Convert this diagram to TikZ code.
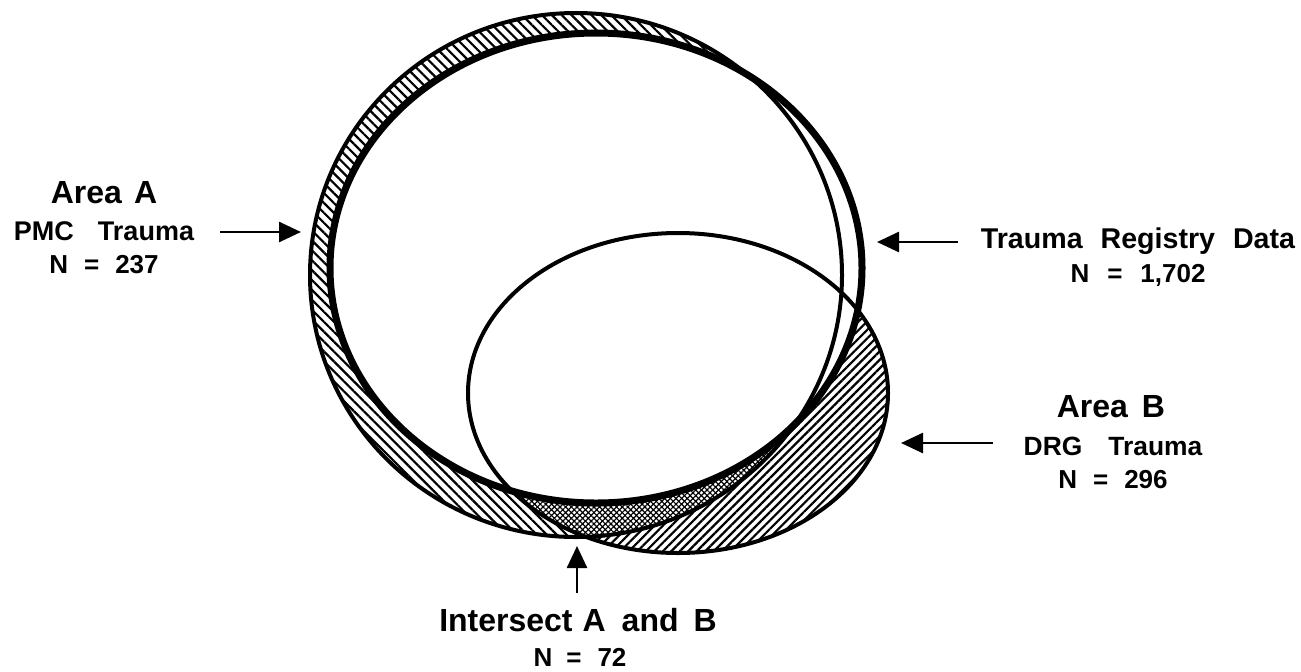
\documentclass[tikz,border=0pt]{standalone}
\usepackage{fontspec}
\setmainfont{Liberation Sans}
\usetikzlibrary{patterns.meta,arrows.meta}
\begin{document}
\begin{tikzpicture}[x=0.5pt,y=-0.5pt,
  lab/.style={inner sep=0pt, anchor=base},
  big/.style={font=\bfseries\fontsize{16}{19}\selectfont},
  mid/.style={font=\bfseries\fontsize{13.5}{16}\selectfont},
  num/.style={font=\bfseries\fontsize{13}{16}\selectfont},
  arr/.style={line width=1.3pt, -{Triangle[length=11pt,width=10pt]}},
  hatchA/.style={pattern={Lines[angle=-45,distance=3.5pt,line width=1.1pt]}},
  hatchB/.style={pattern={Lines[angle=45,distance=3pt,line width=1.1pt]}},
  xhatch1/.style={pattern={Lines[angle=45,distance=2pt,line width=.6pt]}},
  xhatch2/.style={pattern={Lines[angle=-45,distance=2pt,line width=.6pt]}}]
\useasboundingbox (0,0) rectangle (1301,671);
\def\shA{(576,275) ellipse [x radius=133pt, y radius=131pt]}
\def\shR{(596,268) ellipse [x radius=133pt, y radius=117.5pt]}
\def\shB{(678,393) ellipse [x radius=105pt, y radius=80pt]}
% hatched regions
\fill[hatchA] \shA;
\fill[white] \shB;
\fill[hatchB] \shB;
\begin{scope}
  \clip \shA;
  \fill[white] \shB;
  \fill[xhatch1] \shB;
  \fill[xhatch2] \shB;
\end{scope}
\fill[white] \shR;
% outlines
\draw[line width=2pt] \shA;
\draw[line width=2pt] \shB;
\draw[line width=3.5pt] \shR;
% labels
\node[lab,big] (aA) at (104,203) {Area\hspace{6pt}A};
\node[lab,mid] (aApmc) at (104,240) {PMC\hspace{12pt}Trauma};
\node[lab,num] (aAn) at (104,273) {N\hspace{8pt}=\hspace{8pt}237};
\node[lab,font=\bfseries\fontsize{14.3}{17}\selectfont] (reg) at (1138,248) {Trauma\hspace{9pt}Registry\hspace{9pt}Data};
\node[lab,num] (regn) at (1138,282) {N\hspace{9pt}=\hspace{9pt}1,702};
\node[lab,big] (aB) at (1111,417) {Area\hspace{7pt}B};
\node[lab,font=\bfseries\fontsize{13.2}{16}\selectfont] (aBdrg) at (1113,455) {DRG\hspace{13pt}Trauma};
\node[lab,num] (aBn) at (1113,488) {N\hspace{8pt}=\hspace{8pt}296};
\node[lab,big] (isec) at (578,631) {Intersect\hspace{5pt}A\hspace{8pt}and\hspace{7.5pt}B};
\node[lab,num] (isecn) at (580,666) {N\hspace{7pt}=\hspace{8pt}72};
% arrows
\coordinate (tA0) at (220,232); \coordinate (tA1) at (301,232);
\coordinate (tR0) at (958,242); \coordinate (tR1) at (877,242);
\coordinate (tB0) at (993,443); \coordinate (tB1) at (901,443);
\coordinate (tI0) at (577,593); \coordinate (tI1) at (577,546);
\draw[arr] (tA0) -- (tA1);
\draw[arr] (tR0) -- (tR1);
\draw[arr] (tB0) -- (tB1);
\draw[arr] (tI0) -- (tI1);
\end{tikzpicture}
\end{document}
